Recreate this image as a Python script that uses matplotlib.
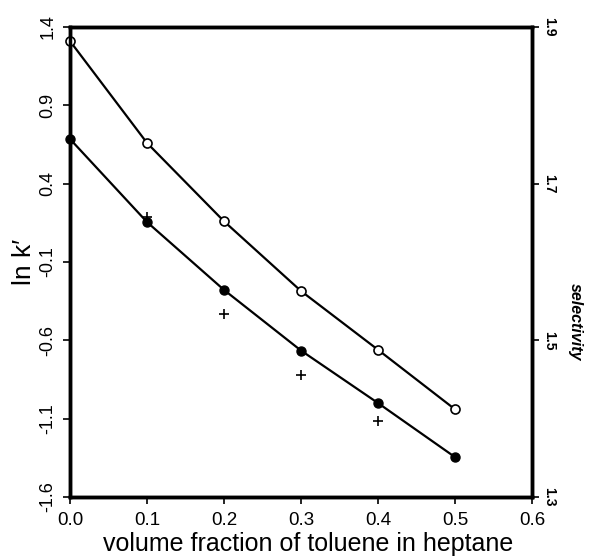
import matplotlib
matplotlib.use('Agg')
import matplotlib.pyplot as plt

plt.rcParams['font.family'] = ['Liberation Sans', 'DejaVu Sans']

# data
frac = [0.0, 0.1, 0.2, 0.3, 0.4, 0.5]
lnk_open = [1.31, 0.66, 0.16, -0.285, -0.66, -1.04]
lnk_filled = [0.685, 0.155, -0.278, -0.665, -1.0, -1.345]
sel_frac = [0.1, 0.2, 0.3, 0.4]
selectivity = [1.657, 1.534, 1.456, 1.397]

xticks = [0.0, 0.1, 0.2, 0.3, 0.4, 0.5, 0.6]
yticks = [1.4, 0.9, 0.4, -0.1, -0.6, -1.1, -1.6]
sel_ticks = [1.3, 1.5, 1.7, 1.9]

fig = plt.figure(figsize=(5.97, 5.57), dpi=100)
ax = fig.add_axes([0.1173, 0.1077, 0.7737, 0.8438])

ax.plot(frac, lnk_open, color='black', lw=1.6, marker='o', ms=6.5,
        mfc='white', mec='black', mew=1.2, clip_on=False, zorder=3)
ax.plot(frac, lnk_filled, color='black', lw=1.6, marker='o', ms=6.5,
        mfc='black', mec='black', clip_on=False, zorder=3)

ax.set_xlim(0, 0.6)
ax.set_ylim(-1.6, 1.4)
ax.set_xticks(xticks)
ax.set_xticklabels([f"{t:.1f}" for t in xticks], fontsize=13.5)
ax.set_yticks(yticks)
ax.set_yticklabels([f"{t:.1f}" for t in yticks], fontsize=13, rotation=90, va='center')
ax.tick_params(direction='out', length=5, width=1.2)
ax.tick_params(axis='x', pad=6)
ax.tick_params(axis='y', pad=5)
ax.set_xlabel("volume fraction of toluene in heptane", fontsize=18, labelpad=2)
ax.xaxis.set_label_coords(0.515, -0.075)
ax.set_ylabel("ln k\u2032", fontsize=19, labelpad=2)
for s in ax.spines.values():
    s.set_linewidth(2.5)

ax2 = ax.twinx()
ax2.set_ylim(1.3, 1.9)
ax2.plot(sel_frac, selectivity, ls='none', marker='+', ms=7, mew=1.2, color='black')
ax2.set_yticks(sel_ticks)
ax2.set_yticklabels([f"{t:.1f}" for t in sel_ticks], fontsize=10, fontweight='bold',
                    rotation=270, va='center')
ax2.tick_params(direction='out', length=5, width=1.2, pad=2)
ax2.set_ylabel("selectivity", fontsize=11.5, style='italic', fontweight='bold', rotation=270)
ax2.yaxis.set_label_coords(1.11, 0.372)
for s in ax2.spines.values():
    s.set_linewidth(2.5)

fig.savefig('out.png', dpi=100)
